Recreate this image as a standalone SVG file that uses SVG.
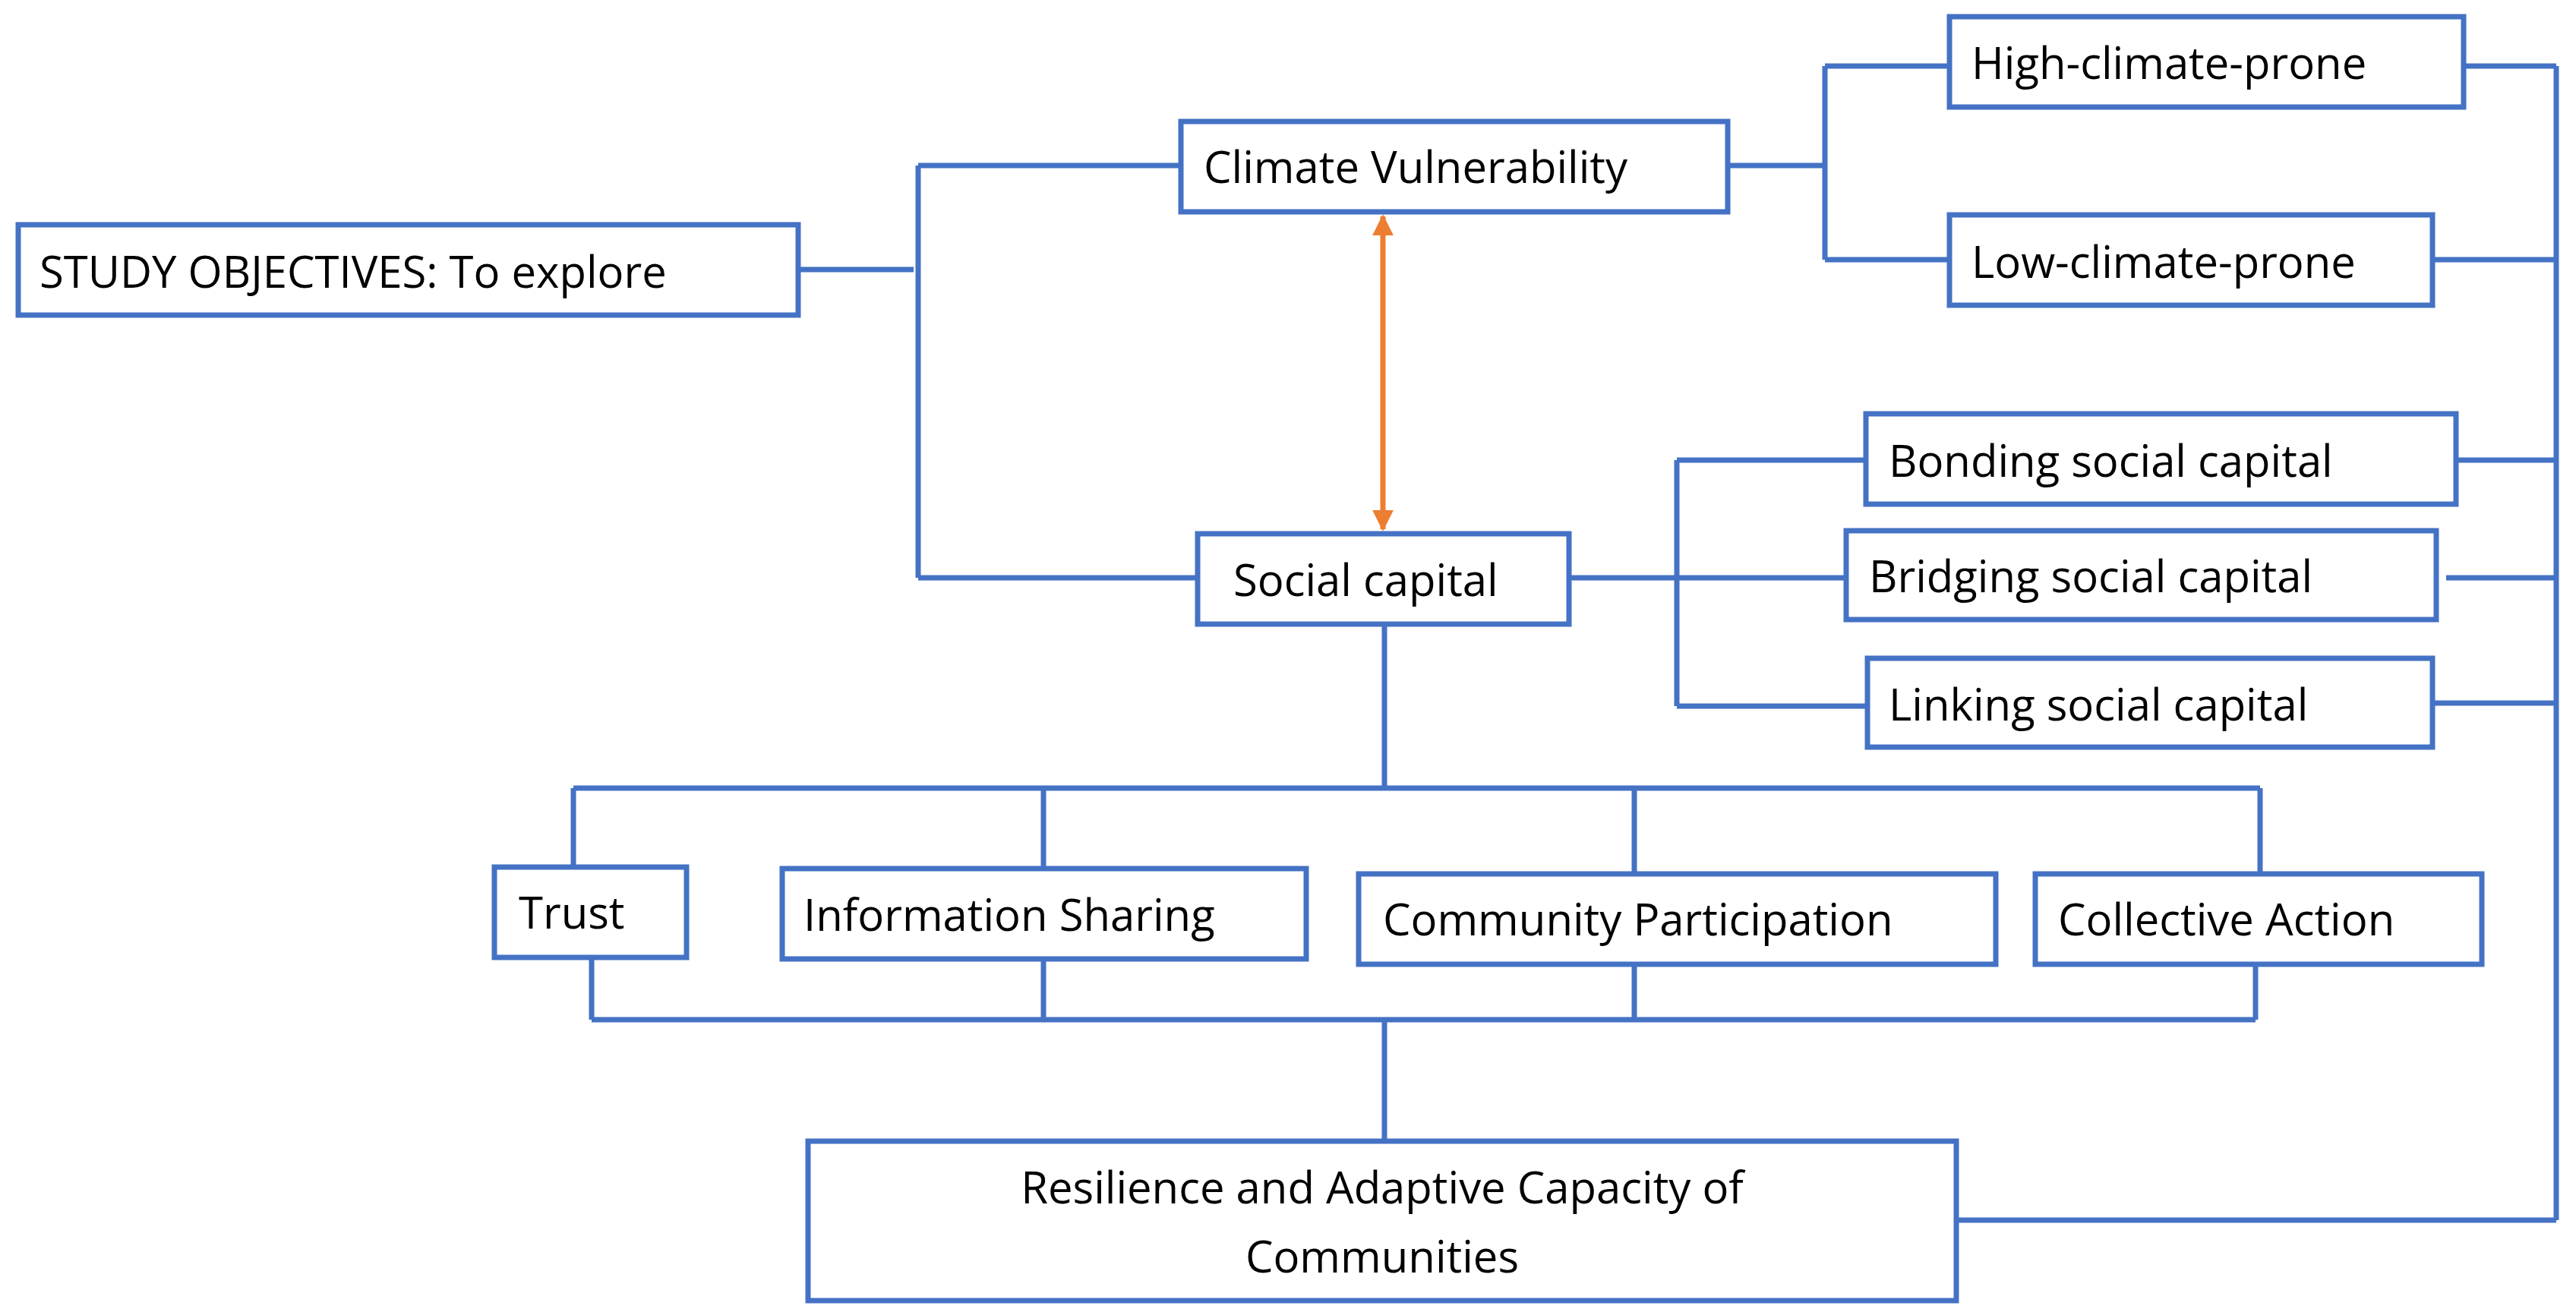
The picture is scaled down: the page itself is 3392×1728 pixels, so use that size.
<svg xmlns="http://www.w3.org/2000/svg" width="3392" height="1728" viewBox="0 0 3392 1728">
<style>
.b{fill:#fff;stroke:#4472C4;stroke-width:7}
.l{fill:none;stroke:#4472C4;stroke-width:7}
text{font-family:"Open Sans","Liberation Sans",sans-serif;font-size:58px;fill:#000;dominant-baseline:central}
</style>
<defs>
<marker id="a" viewBox="0 0 10 10" refX="9" refY="5" markerWidth="4" markerHeight="4" orient="auto-start-reverse"><path d="M0,0L10,5L0,10z" fill="#ED7D31"/></marker>
</defs>
<rect width="3392" height="1728" fill="#fff"/>
<g id="connectors">
<path class="l" d="M1051,355H1203M1209,218V761M1209,218H1555M1209,761H1577"/>
<path class="l" d="M2275,218H2403M2403,87V342M2403,87H2567M2403,342H2567"/>
<path class="l" d="M2066,761H2431M2208,606V930M2208,606H2457M2208,930H2459"/>
<path class="l" d="M3366,87V1607M3245,87H3366M3203,342H3366M3234,606H3366M3221,761H3366M3203,926H3366M2576,1607H3366"/>
<path class="l" d="M1823,822V1038M755,1038H2976M755,1038V1142M1374,1038V1144M2152,1038V1151M2976,1038V1151"/>
<path class="l" d="M779,1261V1343M1374,1263V1343M2152,1270V1343M2970,1270V1343M779,1343H2970M1823,1343V1503"/>
<line x1="1821" y1="285" x2="1821" y2="697" stroke="#ED7D31" stroke-width="7" marker-start="url(#a)" marker-end="url(#a)"/>
</g>
<g id="study"><rect class="b" x="24" y="296" width="1027" height="119"/><text x="52" y="356">STUDY OBJECTIVES: To explore</text></g>
<g id="cv"><rect class="b" x="1555" y="160" width="720" height="119"/><text x="1585" y="218">Climate Vulnerability</text></g>
<g id="high"><rect class="b" x="2567" y="22" width="677" height="119"/><text x="2596" y="81">High-climate-prone</text></g>
<g id="low"><rect class="b" x="2567" y="283" width="636" height="119"/><text x="2596" y="343">Low-climate-prone</text></g>
<g id="bonding"><rect class="b" x="2457" y="545" width="777" height="119"/><text x="2487" y="605">Bonding social capital</text></g>
<g id="bridging"><rect class="b" x="2431" y="699" width="777" height="117"/><text x="2461" y="757">Bridging social capital</text></g>
<g id="linking"><rect class="b" x="2459" y="867" width="744" height="117"/><text x="2487" y="926">Linking social capital</text></g>
<g id="social"><rect class="b" x="1577" y="703" width="489" height="119"/><text x="1624" y="762">Social capital</text></g>
<g id="trust"><rect class="b" x="651" y="1142" width="253" height="119"/><text x="683" y="1200">Trust</text></g>
<g id="info"><rect class="b" x="1030" y="1144" width="690" height="119"/><text x="1058" y="1203">Information Sharing</text></g>
<g id="community"><rect class="b" x="1789" y="1151" width="839" height="119"/><text x="1821" y="1209">Community Participation</text></g>
<g id="collective"><rect class="b" x="2680" y="1151" width="588" height="119"/><text x="2710" y="1209">Collective Action</text></g>
<g id="resilience"><rect class="b" x="1064" y="1503" width="1512" height="210"/><text x="1820" y="1562" text-anchor="middle">Resilience and Adaptive Capacity of</text><text x="1820" y="1653" text-anchor="middle">Communities</text></g>
</svg>
